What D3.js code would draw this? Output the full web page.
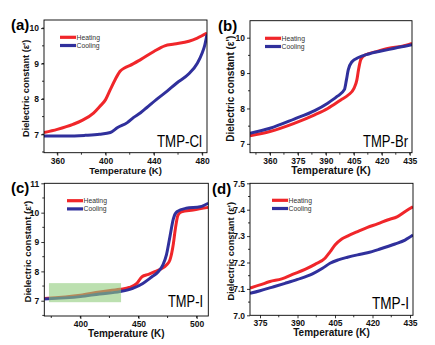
<!DOCTYPE html>
<html>
<head>
<meta charset="utf-8">
<script src="https://cdnjs.cloudflare.com/ajax/libs/d3/7.8.5/d3.min.js"></script>
<style>
  body { margin: 0; background: #fff; }
  svg { font-family: "Liberation Sans", Arial, sans-serif; }
</style>
</head>
<body>
<div id="chart"></div>
<script>
// values: [temperature K, dielectric constant]
const aHeating = [[349,7.05],[360,7.14],[373,7.28],[381,7.4],[390,7.6],[395,7.78],[400,7.98],[404,8.27],[408,8.55],[412,8.78],[416,8.88],[420,8.94],[429,9.11],[440,9.34],[449,9.5],[457,9.55],[469,9.63],[476,9.72],[484,9.86]];
const aCooling = [[349,6.95],[368,6.95],[383,6.97],[395,7.0],[404,7.05],[410,7.19],[418,7.33],[423,7.47],[429,7.61],[434,7.75],[442,7.98],[451,8.22],[459,8.45],[469,8.71],[476,9.01],[480,9.3],[482,9.5],[484,9.82]];

const bHeating = [[349.3,7.23],[360,7.35],[373,7.58],[384,7.82],[391,8.0],[398,8.24],[402,8.38],[405,8.56],[406.6,8.8],[407.5,9.09],[408.8,9.39],[411,9.51],[416.6,9.6],[423.8,9.7],[431,9.76],[436.2,9.84]];
const bCooling = [[349.3,7.3],[360,7.44],[373,7.7],[384,7.94],[391,8.15],[396,8.34],[400,8.54],[401,8.8],[402,9.09],[404,9.32],[407.5,9.44],[413,9.54],[424,9.67],[436.2,9.8]];

const cHeating = [[369,7.08],[400,7.19],[416.6,7.3],[434,7.39],[442,7.45],[448.6,7.59],[453,7.82],[458.6,7.9],[464,7.99],[470,8.1],[474,8.22],[477,8.39],[480,8.95],[481.5,9.4],[484,9.92],[487,10.03],[497,10.09],[510,10.18]];
const cCooling = [[369,7.06],[400,7.14],[416.6,7.23],[434,7.31],[445,7.42],[453.7,7.59],[461,7.8],[467,7.99],[471,8.22],[474,8.56],[477,9.18],[480,9.8],[483,10.03],[491,10.15],[503,10.2],[510,10.32]];

const dHeating = [[371,7.103],[375,7.115],[379,7.128],[383.7,7.138],[388,7.155],[393,7.174],[397,7.193],[401,7.216],[403,7.24],[405,7.266],[407.7,7.289],[410,7.3],[414,7.317],[418,7.333],[422,7.346],[426,7.361],[430,7.374],[433.7,7.397],[436.2,7.411]];
const dCooling = [[371,7.083],[375,7.093],[379.7,7.106],[385,7.121],[390,7.136],[396,7.157],[400,7.178],[403,7.197],[406.3,7.21],[410,7.22],[414,7.229],[418,7.237],[423,7.251],[429,7.27],[433,7.285],[436.2,7.304]];

// tick values
const aXTicks = [360, 400, 440, 480];
const aYTicks = [7, 8, 9, 10];
const bXTicks = [360, 375, 390, 405, 420, 435];
const bYTicks = [7, 8, 9, 10];
const cXTicks = [400, 450, 500];
const cYTicks = [7, 8, 9, 10, 11];
const dXTicks = [375, 390, 405, 420, 435];
const dYTicks = [7.0, 7.1, 7.2, 7.3, 7.4, 7.5];

// highlighted region in (c): [x0, x1, y0, y1]
const cZoomBox = [373, 435, 6.95, 7.6];

const seriesNames = ["Heating", "Cooling"];
const red = "#f0262a";
const blue = "#30309c";

const W = 435, H = 345;
const svg = d3.select("#chart").append("svg")
  .attr("width", W).attr("height", H);

function drawPanel(p) {
  const x = d3.scaleLinear().domain(p.xDomain).range([p.left, p.right]);
  const y = d3.scaleLinear().domain(p.yDomain).range([p.bottom, p.top]);
  const g = svg.append("g");

  g.append("clipPath").attr("id", "clip-" + p.id)
    .append("rect")
    .attr("x", p.left).attr("y", p.top)
    .attr("width", p.right - p.left).attr("height", p.bottom - p.top);

  // minor ticks
  const xMinor = d3.range(p.xMinorStart, p.xDomain[1], p.xMinorStep);
  const yMinor = d3.range(p.yMinorStart, p.yDomain[1], p.yMinorStep);
  g.selectAll(".xm").data(xMinor).enter().append("line")
    .attr("x1", d => x(d)).attr("x2", d => x(d))
    .attr("y1", p.bottom).attr("y2", p.bottom + 2)
    .attr("stroke", "#000").attr("stroke-width", 0.8);
  g.selectAll(".ym").data(yMinor).enter().append("line")
    .attr("y1", d => y(d)).attr("y2", d => y(d))
    .attr("x1", p.left).attr("x2", p.left - 2)
    .attr("stroke", "#000").attr("stroke-width", 0.8);

  const xAxis = g.append("g")
    .attr("transform", `translate(0,${p.bottom})`)
    .call(d3.axisBottom(x).tickValues(p.xTicks).tickSize(3).tickPadding(2));
  const yAxis = g.append("g")
    .attr("transform", `translate(${p.left},0)`)
    .call(d3.axisLeft(y).tickValues(p.yTicks).tickSize(3).tickPadding(2)
      .tickFormat(p.yFormat));
  [xAxis, yAxis].forEach(a => {
    a.select(".domain").remove();
    a.selectAll("line").attr("stroke-width", 0.8);
    a.selectAll("text").attr("font-size", 8.5).attr("font-weight", "bold")
      .attr("fill", "#111").attr("font-family", "'Liberation Sans', Arial, sans-serif");
  });

  const line = d3.line()
    .x(d => x(d[0])).y(d => y(d[1]))
    .curve(d3.curveMonotoneX);
  const lines = g.append("g").attr("clip-path", `url(#clip-${p.id})`);
  lines.append("path").datum(p.heating)
    .attr("d", line).attr("fill", "none")
    .attr("stroke", red).attr("stroke-width", 3);
  lines.append("path").datum(p.cooling)
    .attr("d", line).attr("fill", "none")
    .attr("stroke", blue).attr("stroke-width", 3);

  if (p.box) {
    g.append("rect")
      .attr("x", x(p.box[0])).attr("y", y(p.box[3]))
      .attr("width", x(p.box[1]) - x(p.box[0]))
      .attr("height", y(p.box[2]) - y(p.box[3]))
      .attr("fill", "#8fcc7c").attr("opacity", 0.6);
  }

  // frame
  g.append("rect")
    .attr("x", p.left).attr("y", p.top)
    .attr("width", p.right - p.left).attr("height", p.bottom - p.top)
    .attr("fill", "none").attr("stroke", "#000").attr("stroke-width", 0.9);

  // legend
  [p.heating, p.cooling].forEach((s, i) => {
    const ly = p.legY + i * 8.2;
    g.append("line")
      .attr("x1", p.legX).attr("x2", p.legX + 16)
      .attr("y1", ly).attr("y2", ly)
      .attr("stroke", i === 0 ? red : blue).attr("stroke-width", 3.2);
    g.append("text")
      .attr("x", p.legX + 16.5).attr("y", ly + 2.3)
      .attr("font-size", 6.8).attr("fill", "#333")
      .text(seriesNames[i]);
  });

  // axis titles
  g.append("text")
    .attr("x", (p.left + p.right) / 2).attr("y", p.bottom + 21)
    .attr("text-anchor", "middle").attr("font-weight", "bold")
    .attr("font-size", p.xTitleSize).attr("fill", "#111")
    .text("Temperature (K)");
  g.append("text")
    .attr("transform", `translate(${p.yTitleX},${(p.top + p.bottom) / 2 + 2}) rotate(-90)`)
    .attr("text-anchor", "middle").attr("font-weight", "bold")
    .attr("font-size", p.yTitleSize).attr("fill", "#111")
    .text("Dielectric constant (ε')");

  // compound label
  g.append("text")
    .attr("x", p.nameX).attr("y", p.nameY)
    .attr("text-anchor", "end").attr("font-size", 17)
    .attr("textLength", p.nameW).attr("lengthAdjust", "spacingAndGlyphs")
    .attr("fill", "#000")
    .text(p.name);

  // panel letter
  g.append("text")
    .attr("x", p.letterX).attr("y", p.letterY)
    .attr("font-size", 15).attr("font-weight", "bold").attr("fill", "#000")
    .text(p.letter);
}

drawPanel({
  id: "a", letter: "(a)", letterX: 11, letterY: 30, name: "TMP-Cl",
  nameX: 202, nameY: 147, nameW: 45,
  left: 44, right: 207, top: 20, bottom: 152.7,
  xDomain: [349, 484], yDomain: [6.48, 10.23],
  xTicks: aXTicks, yTicks: aYTicks, yFormat: d3.format("d"),
  xMinorStart: 360, xMinorStep: 20, yMinorStart: 6.5, yMinorStep: 0.5,
  heating: aHeating, cooling: aCooling,
  legX: 60, legY: 37.3, xTitleSize: 9.5, yTitleSize: 9.2, yTitleX: 29
});
drawPanel({
  id: "b", letter: "(b)", letterX: 218, letterY: 31, name: "TMP-Br",
  nameX: 408, nameY: 147, nameW: 45,
  left: 250, right: 412, top: 20.7, bottom: 152.7,
  xDomain: [349.3, 436.2], yDomain: [6.75, 10.48],
  xTicks: bXTicks, yTicks: bYTicks, yFormat: d3.format("d"),
  xMinorStart: 352.5, xMinorStep: 7.5, yMinorStart: 7.5, yMinorStep: 1,
  heating: bHeating, cooling: bCooling,
  legX: 265, legY: 38.3, xTitleSize: 10.4, yTitleSize: 10, yTitleX: 234
});
drawPanel({
  id: "c", letter: "(c)", letterX: 11, letterY: 193, name: "TMP-I",
  nameX: 203, nameY: 307, nameW: 35,
  left: 44.3, right: 208.3, top: 183.3, bottom: 316,
  xDomain: [369, 510], yDomain: [6.48, 11],
  xTicks: cXTicks, yTicks: cYTicks, yFormat: d3.format("d"),
  xMinorStart: 375, xMinorStep: 25, yMinorStart: 6.5, yMinorStep: 1,
  heating: cHeating, cooling: cCooling, box: cZoomBox,
  legX: 67, legY: 200.7, xTitleSize: 10, yTitleSize: 9.6, yTitleX: 31
});
drawPanel({
  id: "d", letter: "(d)", letterX: 212, letterY: 194, name: "TMP-I",
  nameX: 409, nameY: 309, nameW: 37,
  left: 250, right: 413, top: 183.3, bottom: 315.3,
  xDomain: [371, 436.2], yDomain: [7.0, 7.5],
  xTicks: dXTicks, yTicks: dYTicks, yFormat: d3.format(".1f"),
  xMinorStart: 382.5, xMinorStep: 15, yMinorStart: 7.05, yMinorStep: 0.1,
  heating: dHeating, cooling: dCooling,
  legX: 272, legY: 200.3, xTitleSize: 10, yTitleSize: 9.3, yTitleX: 234
});
</script>
</body>
</html>
